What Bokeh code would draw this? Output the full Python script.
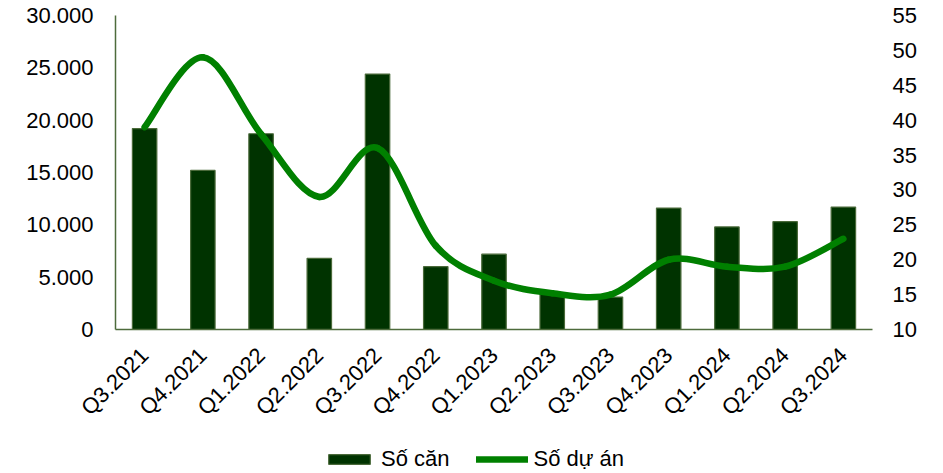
import numpy as np
from bokeh.plotting import figure
from bokeh.models import ColumnDataSource, Range1d, Legend, LegendItem
from bokeh.core.properties import value
from bokeh.embed import file_html
from bokeh.resources import INLINE

categories = ["Q3.2021", "Q4.2021", "Q1.2022", "Q2.2022", "Q3.2022", "Q4.2022",
              "Q1.2023", "Q2.2023", "Q3.2023", "Q4.2023", "Q1.2024", "Q2.2024", "Q3.2024"]
so_can = [19200, 15200, 18700, 6800, 24400, 6000, 7200, 3400, 3100, 11600, 9800, 10300, 11700]
so_du_an = [39, 49, 38, 29, 36, 22, 17, 15.2, 15, 20, 19, 19, 23]

left_ticks = [0, 5000, 10000, 15000, 20000, 25000, 30000]
left_labels = ["0", "5.000", "10.000", "15.000", "20.000", "25.000", "30.000"]
right_ticks = [10, 15, 20, 25, 30, 35, 40, 45, 50, 55]
right_labels = [str(t) for t in right_ticks]

FONT = "Liberation Sans"
AXIS_COLOR = "#4E6B3C"
FS = "22px"

# ---- layout in pixels (whole canvas is the frame; plot area is a sub-box) ----
W, H = 927, 472
PLOT_LEFT, PLOT_RIGHT, PLOT_TOP, PLOT_ZERO = 115, 872, 15, 329
ncat = len(categories)
x_per_px = ncat / (PLOT_RIGHT - PLOT_LEFT)
L_MIN, L_MAX = 0, 30000
R_MIN, R_MAX = 10, 55
l_per_px = (L_MAX - L_MIN) / (PLOT_ZERO - PLOT_TOP)
r_per_px = (R_MAX - R_MIN) / (PLOT_ZERO - PLOT_TOP)

x_start = -0.5 - PLOT_LEFT * x_per_px
x_end = ncat - 0.5 + (W - PLOT_RIGHT) * x_per_px

p = figure(frame_width=W, frame_height=H, min_border=0,
           x_range=Range1d(x_start, x_end),
           y_range=Range1d(L_MIN - (H - PLOT_ZERO) * l_per_px, L_MAX + PLOT_TOP * l_per_px),
           x_axis_location=None, y_axis_location=None,
           output_backend="svg", toolbar_location=None, tools="")
p.extra_y_ranges = {"right": Range1d(R_MIN - (H - PLOT_ZERO) * r_per_px,
                                     R_MAX + PLOT_TOP * r_per_px)}
p.outline_line_color = None
p.background_fill_color = "white"
p.border_fill_color = "white"
p.grid.grid_line_color = None
p.grid.visible = False

x = list(range(ncat))

# bars
src = ColumnDataSource(dict(x=x, v=so_can))
bars = p.vbar(x="x", top="v", bottom=0, width=0.42, source=src,
              fill_color="#003300", line_color="#4A6A3A", line_width=1.2)

# axis lines
p.segment(x0=[-0.5], y0=[L_MIN], x1=[ncat - 0.5], y1=[L_MIN],
          line_color=AXIS_COLOR, line_width=1.5)
p.segment(x0=[-0.5], y0=[L_MIN], x1=[-0.5], y1=[L_MAX],
          line_color=AXIS_COLOR, line_width=1.5)

# smooth line (Catmull-Rom bezier through the data points)
n = len(so_du_an)
x0s, y0s, x1s, y1s, cx0, cy0, cx1, cy1 = [], [], [], [], [], [], [], []
for i in range(n - 1):
    p0 = (x[max(i - 1, 0)], so_du_an[max(i - 1, 0)])
    p1 = (x[i], so_du_an[i])
    p2 = (x[i + 1], so_du_an[i + 1])
    p3 = (x[min(i + 2, n - 1)], so_du_an[min(i + 2, n - 1)])
    x0s.append(p1[0]); y0s.append(p1[1])
    x1s.append(p2[0]); y1s.append(p2[1])
    cx0.append(p1[0] + (p2[0] - p0[0]) / 6); cy0.append(p1[1] + (p2[1] - p0[1]) / 6)
    cx1.append(p2[0] - (p3[0] - p1[0]) / 6); cy1.append(p2[1] - (p3[1] - p1[1]) / 6)
bsrc = ColumnDataSource(dict(x0=x0s, y0=y0s, x1=x1s, y1=y1s,
                             cx0=cx0, cy0=cy0, cx1=cx1, cy1=cy1))
curve = p.bezier(x0="x0", y0="y0", x1="x1", y1="y1", cx0="cx0", cy0="cy0",
                 cx1="cx1", cy1="cy1", source=bsrc, y_range_name="right",
                 line_color="#008000", line_width=6.5, line_cap="round")

# category labels (rotated 45 degrees, ending under each bar)
lab_src = ColumnDataSource(dict(x=x, y=[L_MIN - 22 * l_per_px] * ncat, t=categories))
p.text(x="x", y="y", text="t", source=lab_src, angle=np.pi / 4,
       text_align="right", text_baseline="middle",
       text_font=value(FONT), text_font_size=value(FS), text_color="#000000")

# left value labels
lsrc = ColumnDataSource(dict(x=[-0.5 - 22 * x_per_px] * len(left_ticks), y=left_ticks, t=left_labels))
p.text(x="x", y="y", text="t", source=lsrc, text_align="right", text_baseline="middle",
       text_font=value(FONT), text_font_size=value(FS), text_color="#000000")

# right value labels
rsrc = ColumnDataSource(dict(x=[ncat - 0.5 + 20 * x_per_px] * len(right_ticks), y=right_ticks, t=right_labels))
p.text(x="x", y="y", text="t", source=rsrc, y_range_name="right",
       text_align="left", text_baseline="middle",
       text_font=value(FONT), text_font_size=value(FS), text_color="#000000")

legend = Legend(items=[LegendItem(label="Số căn", renderers=[bars]),
                       LegendItem(label="Số dự án", renderers=[curve])],
                orientation="horizontal", location=(323, 0),
                glyph_width=52, glyph_height=12, label_height=12,
                label_standoff=6, spacing=26, padding=0, margin=0,
                border_line_color=None, background_fill_alpha=0,
                label_text_font=FONT, label_text_font_size=FS,
                label_text_color="#000000", label_text_baseline="middle")
p.add_layout(legend, "center")

open("out.html", "w").write(file_html(p, INLINE))
